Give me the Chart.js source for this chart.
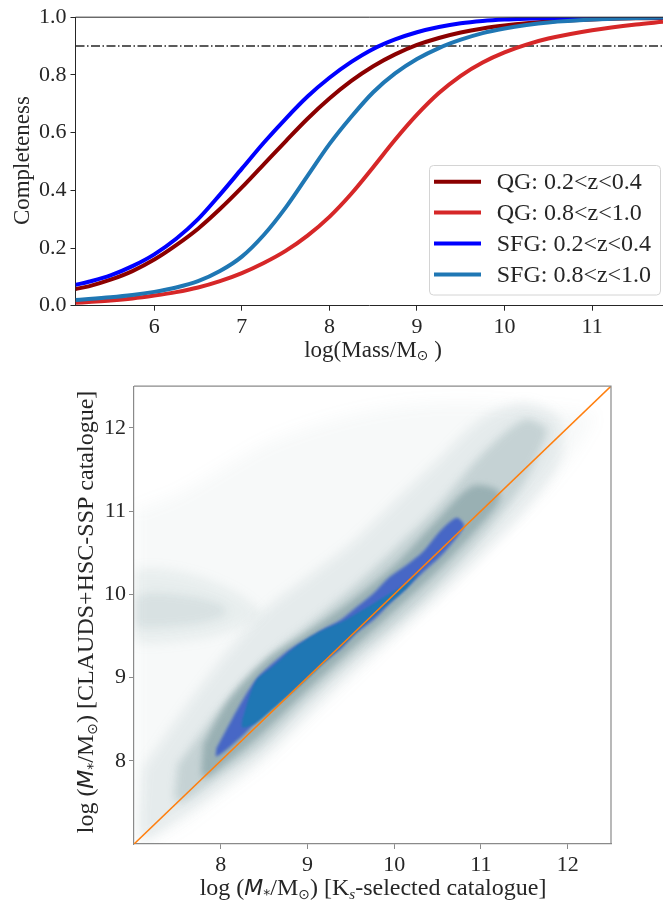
<!DOCTYPE html>
<html><head><meta charset="utf-8">
<script src="https://cdn.jsdelivr.net/npm/chart.js@4/dist/chart.umd.min.js"></script>
<style>
html,body{margin:0;padding:0;background:#fff;overflow:hidden;width:663px;height:903px;}
#c1{position:absolute;left:0;top:0;}
#c2{position:absolute;left:0;top:370px;}
</style></head><body>
<canvas id="c1" width="663" height="370"></canvas>
<canvas id="c2" width="663" height="533"></canvas>
<script>
// ---------- Top panel: completeness curves ----------
const massX    = [5.1, 5.25, 5.5, 5.75, 6.0, 6.25, 6.5, 6.75, 7.0, 7.25, 7.5, 7.75, 8.0, 8.25, 8.5, 8.75, 9.0, 9.25, 9.5, 9.75, 10.0, 10.25, 10.5, 11.0, 11.5, 11.81];
const qgLowZ   = [0.058,0.067,0.09,0.12,0.16,0.21,0.267,0.335,0.41,0.49,0.57,0.648,0.718,0.779,0.83,0.871,0.904,0.928,0.947,0.961,0.971,0.979,0.985,0.992,0.996,0.997];
const qgHighZ  = [0.01,0.013,0.018,0.025,0.035,0.047,0.063,0.085,0.113,0.148,0.19,0.243,0.308,0.388,0.48,0.575,0.662,0.737,0.797,0.843,0.878,0.905,0.926,0.955,0.975,0.984];
const sfgLowZ  = [0.072,0.083,0.105,0.137,0.178,0.232,0.30,0.385,0.475,0.565,0.648,0.725,0.79,0.845,0.89,0.923,0.948,0.966,0.979,0.987,0.992,0.995,0.997,0.999,1.0,1.0];
const sfgHighZ = [0.02,0.023,0.029,0.037,0.048,0.063,0.085,0.12,0.17,0.245,0.34,0.45,0.56,0.655,0.74,0.805,0.855,0.893,0.922,0.945,0.961,0.973,0.982,0.992,0.997,0.999];
const seriesLabels = ['QG: 0.2<z<0.4','QG: 0.8<z<1.0','SFG: 0.2<z<0.4','SFG: 0.8<z<1.0'];
const seriesColors = ['#8b0000','#d62728','#0000ff','#1f77b4'];
const completenessTicks = [0, 0.2, 0.4, 0.6, 0.8, 1.0];
const massTicks = [6, 7, 8, 9, 10, 11];
const massRange = [5.1, 11.81];
const thresholdLevel = 0.9;

// ---------- Bottom panel: mass comparison density ----------
const catTicks = [8, 9, 10, 11, 12];
const catRange = [7, 12.5];
const oneToOne = [7, 12.5];
// density contour bands (x, lower y, upper y)
const bgX  = [7.0, 7.5, 8.0, 8.5, 9.0, 9.5, 10.0, 10.5, 11.0, 11.5, 12.0, 12.3];
const bgLo = [7.0, 7.2, 7.6, 8.0, 8.5, 9.0, 9.5, 10.0, 10.5, 11.0, 11.6, 12.1];
const bgHi = [11.0,11.2,11.5,11.8,12.0,12.15,12.25,12.3,12.3,12.25,12.2,12.15];
const blobX  = [7.0, 7.3, 7.6, 7.9, 8.2, 8.45];
const blobLo = [9.45,9.42,9.45,9.5, 9.6, 9.75];
const blobHi = [10.3,10.3,10.25,10.15,10.0,9.8];
const blobCoreX  = [7.0, 7.2, 7.5, 7.8, 8.05];
const blobCoreLo = [9.62,9.6, 9.62,9.66,9.75];
const blobCoreHi = [9.98,10.02,10.0,9.95,9.85];
const haloFaintX  = [7.1, 7.5, 8.0, 8.5, 9.0, 9.5, 10.0, 10.5, 11.0, 11.5, 11.9];
const haloFaintLo = [7.05,7.3, 7.65,8.05,8.55,9.05,9.5, 9.95,10.45,11.0,11.6];
const haloFaintHi = [7.9, 8.5, 9.2, 9.8, 10.2,10.6,11.1,11.6,12.1,12.3,12.1];
const haloMidX  = [7.5, 8.0, 8.5, 9.0, 9.5, 10.0, 10.5, 11.0, 11.5, 11.75];
const haloMidLo = [7.5, 7.82,8.2, 8.72,9.2, 9.63,10.11,10.67,11.35,11.9];
const haloMidHi = [7.95,8.64,9.2, 9.63,10.06,10.54,11.06,11.67,12.1,12.0];
const haloDenseX  = [7.8, 8.1, 8.5, 9.0, 9.5, 10.0, 10.5, 10.9, 11.2];
const haloDenseLo = [7.8, 8.0, 8.35,8.85,9.33,9.8, 10.28,10.72,11.1];
const haloDenseHi = [8.2, 8.75,9.2, 9.55,9.92,10.35,10.9,11.3, 11.25];
const coreOuterX  = [7.95,8.22,8.41,8.61,8.80,8.99,9.18,9.38,9.57,9.76,9.95,10.14,10.34,10.53,10.72,10.8];
const coreOuterLo = [8.05,8.27,8.47,8.67,8.86,9.02,9.18,9.34,9.54,9.69,9.89,10.07,10.27,10.45,10.68,10.8];
const coreOuterHi = [8.15,8.67,8.98,9.18,9.34,9.46,9.58,9.69,9.85,10.01,10.21,10.35,10.52,10.76,10.92,10.85];
const coreInnerX  = [8.25,8.4, 8.61,8.8, 8.99,9.18,9.38,9.57,9.76,9.95,10.14,10.3];
const coreInnerLo = [8.4, 8.45,8.63,8.8, 8.98,9.17,9.36,9.55,9.73,9.9, 10.07,10.27];
const coreInnerHi = [8.5, 8.95,9.14,9.32,9.46,9.57,9.66,9.77,9.89,10.01,10.13,10.28];

const serif = "'Liberation Serif','DejaVu Serif',serif";
const sans = "'DejaVu Sans',sans-serif";

function fixedTicks(vals){ return s => { s.ticks = vals.map(v => ({value: v})); }; }
function band(xs, lo, hi){
  const pts = xs.map((x,i) => ({x, y: hi[i]}));
  for (let i = xs.length-1; i >= 0; i--) pts.push({x: xs[i], y: lo[i]});
  pts.push({x: xs[0], y: hi[0]});
  return pts;
}
function drawRuns(ctx, runs, cx, cy, rot, base){
  ctx.save(); ctx.translate(cx, cy); ctx.rotate(rot || 0);
  ctx.textBaseline = 'alphabetic'; ctx.textAlign = 'left';
  let w = 0;
  for (const r of runs){ ctx.font = r.f; w += ctx.measureText(r.t).width; }
  let x = -w/2;
  for (const r of runs){
    ctx.font = r.f; ctx.fillStyle = '#262626';
    ctx.fillText(r.t, x, base + (r.dy || 0));
    x += ctx.measureText(r.t).width;
  }
  ctx.restore();
}

const topDecor = {
  id: 'topDecor',
  afterDraw(chart){
    const ctx = chart.ctx, a = chart.chartArea;
    ctx.save();
    ctx.strokeStyle = '#262626'; ctx.lineWidth = 1;
    ctx.beginPath(); ctx.moveTo(a.left, a.top); ctx.lineTo(a.right, a.top); ctx.stroke();
    // legend
    const L = 429.5, T = 165.5, W = 231, H = 129.5, R = 4;
    ctx.beginPath();
    ctx.moveTo(L+R, T); ctx.lineTo(L+W-R, T); ctx.arcTo(L+W, T, L+W, T+R, R);
    ctx.lineTo(L+W, T+H-R); ctx.arcTo(L+W, T+H, L+W-R, T+H, R);
    ctx.lineTo(L+R, T+H); ctx.arcTo(L, T+H, L, T+H-R, R);
    ctx.lineTo(L, T+R); ctx.arcTo(L, T, L+R, T, R); ctx.closePath();
    ctx.fillStyle = 'rgba(255,255,255,0.85)'; ctx.fill();
    ctx.strokeStyle = '#d4d4d4'; ctx.stroke();
    ctx.font = '24px ' + serif; ctx.textBaseline = 'middle'; ctx.textAlign = 'left';
    seriesLabels.forEach((lab, i) => {
      const y = 181.7 + 30.9*i;
      ctx.strokeStyle = seriesColors[i]; ctx.lineWidth = 4;
      ctx.beginPath(); ctx.moveTo(434, y); ctx.lineTo(481, y); ctx.stroke();
      ctx.fillStyle = '#262626'; ctx.fillText(lab, 496.7, y + 1);
    });
    ctx.restore();
    drawRuns(ctx, [{t:'Completeness', f:'23px '+serif}], 22, 160.6, -Math.PI/2, 7);
    drawRuns(ctx, [{t:'log(Mass/M', f:'23px '+serif},{t:'\u2299', f:'14px '+sans, dy:3},{t:' )', f:'23px '+serif}], 373, 350, 0, 7);
  }
};

// soft edges for the density bands (canvas blur set per dataset, in drawing order)
function blurFor(chart, meta){
  const ds = meta ? chart.data.datasets[meta.index] : null;
  return ds && ds.blurPx ? 'blur(' + ds.blurPx + 'px)' : 'none';
}
const softBands = {
  id: 'softBands',
  beforeDatasetsDraw(chart){
    const metas = chart.getSortedVisibleDatasetMetas();
    chart.ctx.filter = blurFor(chart, metas[metas.length-1]);
  },
  afterDatasetDraw(chart, args){
    const metas = chart.getSortedVisibleDatasetMetas();
    const pos = metas.indexOf(args.meta);
    chart.ctx.filter = blurFor(chart, pos > 0 ? metas[pos-1] : null);
  },
  afterDatasetsDraw(chart){ chart.ctx.filter = 'none'; }
};

const botDecor = {
  id: 'botDecor',
  afterDraw(chart){
    const ctx = chart.ctx, a = chart.chartArea;
    ctx.save();
    ctx.filter = 'none';
    ctx.strokeStyle = '#8a8a8a'; ctx.lineWidth = 1.2;
    ctx.beginPath(); ctx.moveTo(a.left, a.top); ctx.lineTo(a.right, a.top); ctx.lineTo(a.right, a.bottom); ctx.stroke();
    ctx.restore();
    const F = '24px '+serif;
    drawRuns(ctx, [
      {t:'log (', f:F},{t:'M', f:'italic 22px '+sans},{t:'*', f:'14px '+sans, dy:4},
      {t:'/M', f:F},{t:'\u2299', f:'14px '+sans, dy:4},{t:') [CLAUDS+HSC-SSP catalogue]', f:F}
    ], 85, 242, -Math.PI/2, 8);
    drawRuns(ctx, [
      {t:'log (', f:F},{t:'M', f:'italic 22px '+sans},{t:'*', f:'14px '+sans, dy:4},
      {t:'/M', f:F},{t:'\u2299', f:'14px '+sans, dy:4},{t:') [K', f:F},{t:'s', f:'italic 15px '+serif, dy:4},
      {t:'-selected catalogue]', f:F}
    ], 373, 517, 0, 8);
  }
};

const topSeries = [qgLowZ, qgHighZ, sfgLowZ, sfgHighZ];
new Chart(document.getElementById('c1'), {
  type: 'scatter',
  data: { datasets: [
    ...topSeries.map((arr, i) => ({
      label: seriesLabels[i],
      data: massX.map((x, j) => ({x, y: arr[j]})),
      showLine: true, borderColor: seriesColors[i], borderWidth: 4,
      pointRadius: 0, cubicInterpolationMode: 'monotone', fill: false, order: 4 - i
    })),
    { label: 'threshold', data: [{x: massRange[0], y: thresholdLevel}, {x: massRange[1], y: thresholdLevel}],
      showLine: true, borderColor: '#262626', borderWidth: 1.4, borderDash: [9, 2.5, 1.5, 2.5],
      pointRadius: 0, fill: false, order: 6 }
  ]},
  options: {
    responsive: false, animation: false, events: [],
    layout: { padding: { top: 15.5, left: 0, right: 0, bottom: 0 } },
    plugins: { legend: { display: false }, tooltip: { enabled: false } },
    scales: {
      x: { type: 'linear', min: massRange[0], max: massRange[1],
        afterBuildTicks: fixedTicks(massTicks), afterFit: s => { s.height = 64.3; },
        grid: { display: true, drawOnChartArea: false, drawTicks: true, tickLength: 5, color: '#262626' },
        border: { display: true, color: '#262626', width: 1 },
        ticks: { font: { family: serif, size: 22 }, color: '#262626', padding: 3, maxRotation: 0, autoSkip: false } },
      y: { type: 'linear', min: 0, max: 1,
        afterBuildTicks: fixedTicks(completenessTicks), afterFit: s => { s.width = 75.5; },
        grid: { display: true, drawOnChartArea: false, drawTicks: true, tickLength: 5, color: '#262626' },
        border: { display: true, color: '#262626', width: 1 },
        ticks: { font: { family: serif, size: 22 }, color: '#262626', padding: 4, callback: v => v.toFixed(1) } }
    }
  },
  plugins: [topDecor]
});

const haloRGB = '100,135,140';
function bandSet(xs, lo, hi, color, order, blurPx){
  return { data: band(xs, lo, hi), showLine: true, borderWidth: 0, borderColor: 'rgba(0,0,0,0)',
    backgroundColor: color, fill: 'shape', pointRadius: 0, tension: 0.3, order, blurPx };
}
new Chart(document.getElementById('c2'), {
  type: 'scatter',
  data: { datasets: [
    { data: oneToOne.map(v => ({x: v, y: v})), showLine: true, borderColor: '#ff7f0e', borderWidth: 1.6,
      pointRadius: 0, fill: false, order: 0 },
    bandSet(coreInnerX, coreInnerLo, coreInnerHi, '#1f77b4', 1, 1),
    bandSet(coreOuterX, coreOuterLo, coreOuterHi, 'rgba(62,95,200,0.9)', 2, 1.5),
    bandSet(haloDenseX, haloDenseLo, haloDenseHi, 'rgba('+haloRGB+',0.45)', 3, 3),
    bandSet(haloMidX, haloMidLo, haloMidHi, 'rgba('+haloRGB+',0.25)', 4, 4),
    bandSet(haloFaintX, haloFaintLo, haloFaintHi, 'rgba('+haloRGB+',0.12)', 5, 6),
    bandSet(blobCoreX, blobCoreLo, blobCoreHi, 'rgba('+haloRGB+',0.12)', 6, 5),
    bandSet(blobX, blobLo, blobHi, 'rgba('+haloRGB+',0.10)', 7, 6),
    bandSet(bgX, bgLo, bgHi, 'rgba('+haloRGB+',0.05)', 8, 8)
  ]},
  options: {
    responsive: false, animation: false, events: [],
    layout: { padding: { top: 10, left: 0, right: 52, bottom: 0 } },
    plugins: { legend: { display: false }, tooltip: { enabled: false } },
    scales: {
      x: { type: 'linear', min: catRange[0], max: catRange[1],
        afterBuildTicks: fixedTicks(catTicks), afterFit: s => { s.height = 59; },
        grid: { display: true, drawOnChartArea: false, drawTicks: true, tickLength: 5, color: '#8a8a8a' },
        border: { display: true, color: '#8a8a8a', width: 1.2 },
        ticks: { font: { family: serif, size: 22 }, color: '#262626', padding: 3, maxRotation: 0, autoSkip: false } },
      y: { type: 'linear', min: catRange[0], max: catRange[1],
        afterBuildTicks: fixedTicks(catTicks), afterFit: s => { s.width = 134; },
        grid: { display: true, drawOnChartArea: false, drawTicks: true, tickLength: 5, color: '#8a8a8a' },
        border: { display: true, color: '#8a8a8a', width: 1.2 },
        ticks: { font: { family: serif, size: 22 }, color: '#262626', padding: 3 } }
    }
  },
  plugins: [softBands, botDecor]
});
</script>
</body></html>
